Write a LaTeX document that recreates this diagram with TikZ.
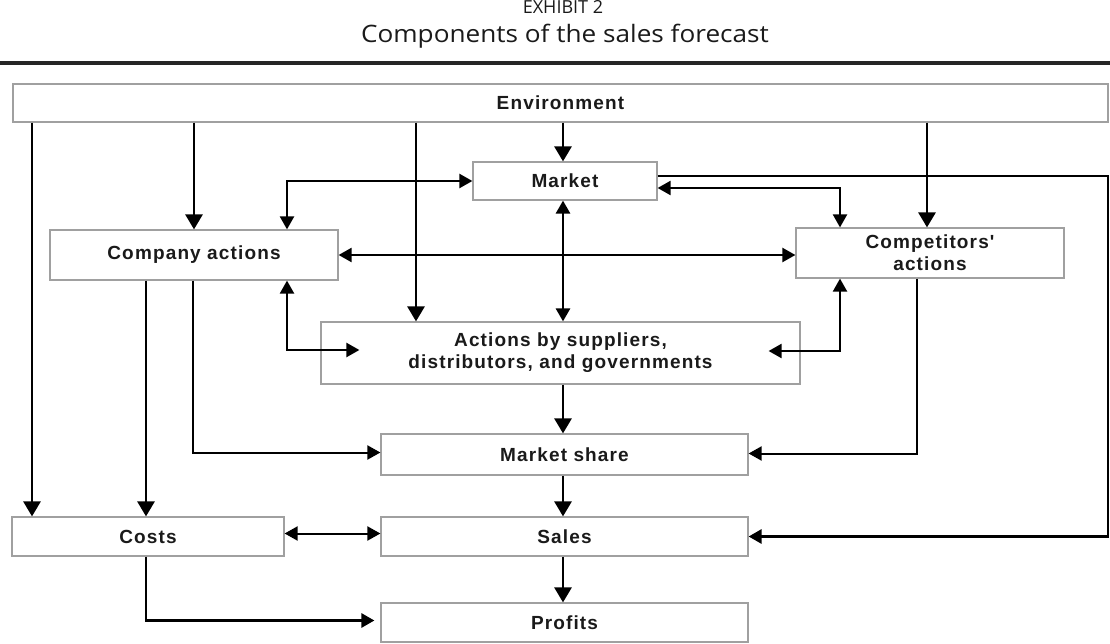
\documentclass[tikz,border=0pt]{standalone}
\usepackage{fontspec}
\setmainfont{Liberation Sans}
\newfontfamily\boxfont{Liberation Sans}[LetterSpace=6]
\newfontfamily\titlefont{Open Sans}
\usetikzlibrary{arrows.meta}
\definecolor{boxgray}{HTML}{A0A0A0}
\definecolor{ink}{HTML}{1A1A1A}
\tikzset{
  box/.style={draw=boxgray, line width=1.2pt, fill=white, inner sep=0pt, align=center,
    text=ink, font=\boxfont\bfseries\fontsize{19}{22}\selectfont},
  tip/.tip={Triangle[length=13pt,width=14pt]},
  bigtip/.tip={Triangle[length=15pt,width=17pt]},
  conn/.style={line width=2.8pt, -bigtip},
  thinconn/.style={line width=2pt, -tip},
  dbl/.style={line width=2.2pt, tip-tip},
  plain/.style={line width=2pt},
}
\begin{document}
\begin{tikzpicture}[x=1pt,y=-1pt]
\useasboundingbox (0,0) rectangle (1110,644);
% titles
\node[font=\titlefont\fontsize{18}{22}\selectfont, anchor=base, text=ink] (exh) at (563,14) {EXHIBIT 2};
\node[font=\titlefont\fontsize{24}{28}\selectfont, anchor=base, text=ink] (title) at (565,43) {\scalebox{1.09}[1]{Components of the sales forecast}};
\draw[line width=4.5pt, black!85] (0,63) -- (1110,63);
% boxes
\node[box, minimum width=1095pt, minimum height=38pt] (env) at (560.5,103) {Environment};
\node[box, minimum width=184pt, minimum height=38pt] (market) at (565,181) {Market};
\node[box, minimum width=288pt, minimum height=50pt] (company) at (194,255) {Company actions};
\node[box, minimum width=268pt, minimum height=50pt] (comp) at (930,253) {Competitors'\\actions};
\node[box, minimum width=479pt, minimum height=62pt] (supp) at (560.5,353) {Actions by suppliers,\\distributors, and governments};
\node[box, minimum width=367pt, minimum height=41pt] (mshare) at (564.5,454.5) {Market share};
\node[box, minimum width=272pt, minimum height=39pt] (costs) at (148,536.5) {Costs};
\node[box, minimum width=367pt, minimum height=39pt] (sales) at (564.5,536.5) {Sales};
\node[box, minimum width=367pt, minimum height=39pt] (profits) at (564.5,622.5) {Profits};
% environment arrows
\draw[conn] (32,0 |- env.south) -- (32,0 |- costs.north);
\draw[conn] (194,0 |- env.south) -- (194,0 |- company.north);
\draw[conn] (416,0 |- env.south) -- (416,0 |- supp.north);
\draw[conn] (563,0 |- env.south) -- (563,0 |- market.north);
\draw[conn] (927,0 |- env.south) -- (927,0 |- comp.north);
% market links
\draw[dbl] (market.west) -| (company.north -| 287,0);
\draw[dbl] ([yshift=-7pt]market.east) -| (comp.north -| 840,0);
\draw[dbl, line width=2.8pt] (563,0 |- market.south) -- (563,0 |- supp.north);
\draw[plain] ([yshift=5pt]market.east) -| (1108,500);
\draw[thinconn, line width=2.8pt] (1108,500) |- (sales.east);
% company / competitors
\draw[dbl] (company.east) -- (company.east -| comp.west);
\draw[dbl] (287,0 |- company.south) |- ([xshift=39pt,yshift=3pt]supp.west);
\draw[dbl] (840,0 |- comp.south) |- ([xshift=-32pt,yshift=2pt]supp.east);
\draw[thinconn] (193,0 |- company.south) |- ([yshift=2pt]mshare.west);
\draw[thinconn] (917,0 |- comp.south) |- ([yshift=1pt]mshare.east);
\draw[conn] (146,0 |- company.south) -- (146,0 |- costs.north);
% lower chain
\draw[conn] (563,0 |- supp.south) -- (563,0 |- mshare.north);
\draw[conn] (563,0 |- mshare.south) -- (563,0 |- sales.north);
\draw[conn] (563,0 |- sales.south) -- (563,0 |- profits.north);
\draw[dbl, line width=2pt] ([yshift=3pt]costs.east) -- ([yshift=3pt]sales.west);
\draw[thinconn, line width=2.8pt, shorten >=6pt] (146,0 |- costs.south) |- ([yshift=2pt]profits.west);
\end{tikzpicture}
\end{document}
